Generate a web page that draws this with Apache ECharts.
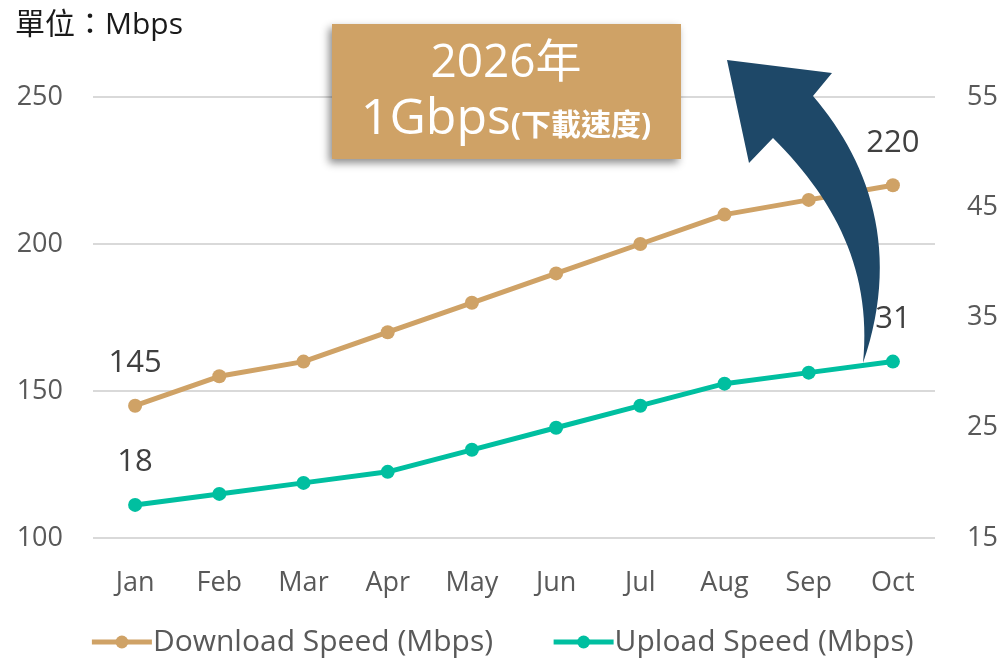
<!DOCTYPE html>
<html>
<head>
<meta charset="utf-8">
<script src="https://cdn.jsdelivr.net/npm/echarts@6/dist/echarts.min.js"></script>
<style>
  html, body { margin: 0; padding: 0; background: #fff; }
  #main { width: 1003px; height: 660px; }
</style>
</head>
<body>
<div id="main"></div>
<script>
// 資料
var months = ['Jan', 'Feb', 'Mar', 'Apr', 'May', 'Jun', 'Jul', 'Aug', 'Sep', 'Oct'];
var downloadSpeed = [145, 155, 160, 170, 180, 190, 200, 210, 215, 220];
var uploadSpeed = [18, 19, 20, 21, 23, 25, 27, 29, 30, 31];
var leftTicks = { min: 100, max: 250, interval: 50 };
var rightTicks = { min: 15, max: 55, interval: 10 };

var gold = '#cfa266';
var teal = '#00bfa0';
var font = '"Open Sans", "Noto Sans CJK TC", sans-serif';

var chart = echarts.init(document.getElementById('main'));

// 只在第一個和最後一個點顯示標籤
function edgeLabel(params) {
    if (params.dataIndex === 0 || params.dataIndex === months.length - 1) {
        return params.value;
    }
    return '';
}

// 箭頭的曲線邊 (三次貝茲取樣)
function bez(p0, p1, p2, p3, n) {
    var pts = [];
    for (var i = 0; i <= n; i++) {
        var t = i / n, u = 1 - t;
        pts.push([
            u*u*u*p0[0] + 3*u*u*t*p1[0] + 3*u*t*t*p2[0] + t*t*t*p3[0],
            u*u*u*p0[1] + 3*u*u*t*p1[1] + 3*u*t*t*p2[1] + t*t*t*p3[1]
        ]);
    }
    return pts;
}
var arrowPts = [[727, 60], [832, 73]]
    .concat(bez([813, 96], [868, 160], [902, 250], [863, 363], 30))
    .concat(bez([863, 363], [872, 270], [835, 200], [773, 138], 30))
    .concat([[749, 163]]);

var option = {
    animation: false,
    textStyle: { fontFamily: font },
    grid: { left: 93, right: 68, top: 97, bottom: 122 },
    legend: {
        bottom: -2,
        left: 'center',
        itemWidth: 60,
        itemHeight: 16,
        itemGap: 58,
        lineStyle: { width: 5 },
        textStyle: { fontSize: 30, color: '#595959', fontFamily: font, padding: [0, 0, 0, -4] },
        data: ['Download Speed (Mbps)', 'Upload Speed (Mbps)']
    },
    xAxis: {
        type: 'category',
        data: months,
        axisLine: { show: false },
        axisTick: { show: false },
        axisLabel: { fontSize: 27, color: '#595959', margin: 32, fontFamily: font }
    },
    yAxis: [
        {
            type: 'value',
            min: leftTicks.min,
            max: leftTicks.max,
            interval: leftTicks.interval,
            axisLine: { show: false },
            axisTick: { show: false },
            axisLabel: { fontSize: 27, color: '#595959', margin: 30, fontFamily: font },
            splitLine: { lineStyle: { color: '#d9d9d9', width: 2 } }
        },
        {
            type: 'value',
            min: rightTicks.min,
            max: rightTicks.max,
            interval: rightTicks.interval,
            axisLine: { show: false },
            axisTick: { show: false },
            axisLabel: { fontSize: 27, color: '#595959', margin: 32, fontFamily: font },
            splitLine: { show: false }
        }
    ],
    series: [
        {
            name: 'Download Speed (Mbps)',
            type: 'line',
            yAxisIndex: 0,
            data: downloadSpeed,
            symbol: 'circle',
            symbolSize: 14,
            lineStyle: { color: gold, width: 5 },
            itemStyle: { color: gold },
            label: {
                show: true,
                position: 'top',
                distance: 20,
                fontSize: 31,
                color: '#404040',
                fontFamily: font,
                formatter: edgeLabel
            },
            z: 3
        },
        {
            name: 'Upload Speed (Mbps)',
            type: 'line',
            yAxisIndex: 1,
            data: uploadSpeed,
            symbol: 'circle',
            symbolSize: 14,
            lineStyle: { color: teal, width: 5 },
            itemStyle: { color: teal },
            label: {
                show: true,
                position: 'top',
                distance: 20,
                fontSize: 31,
                color: '#404040',
                fontFamily: font,
                formatter: edgeLabel
            },
            z: 3
        }
    ],
    graphic: [
        {
            type: 'text',
            x: 15,
            y: 10,
            style: {
                text: '單位：Mbps',
                fill: '#1a1a1a',
                font: '30px ' + font
            }
        },
        {
            type: 'rect',
            shape: { x: 332, y: 24, width: 349, height: 135 },
            style: {
                fill: gold,
                shadowColor: 'rgba(0,0,0,0.45)',
                shadowBlur: 8,
                shadowOffsetX: -3,
                shadowOffsetY: 4
            },
            z: 10
        },
        {
            type: 'text',
            x: 506,
            y: 64,
            style: {
                text: '2026年',
                fill: '#fff',
                font: '46px ' + font,
                align: 'center',
                verticalAlign: 'middle'
            },
            z: 11
        },
        {
            type: 'text',
            x: 506,
            y: 120,
            style: {
                text: '{a|1Gbps}{b|(下載速度)}',
                fill: '#fff',
                align: 'center',
                verticalAlign: 'middle',
                rich: {
                    a: { fontSize: 50, fontFamily: font, fill: '#fff' },
                    b: { fontSize: 30, fontWeight: 'bold', fontFamily: font, fill: '#fff', padding: [12, 0, 0, 0] }
                }
            },
            z: 11
        },
        {
            type: 'polygon',
            shape: { points: arrowPts },
            style: { fill: '#1e4868' },
            z: 12
        }
    ]
};

chart.setOption(option);
</script>
</body>
</html>
